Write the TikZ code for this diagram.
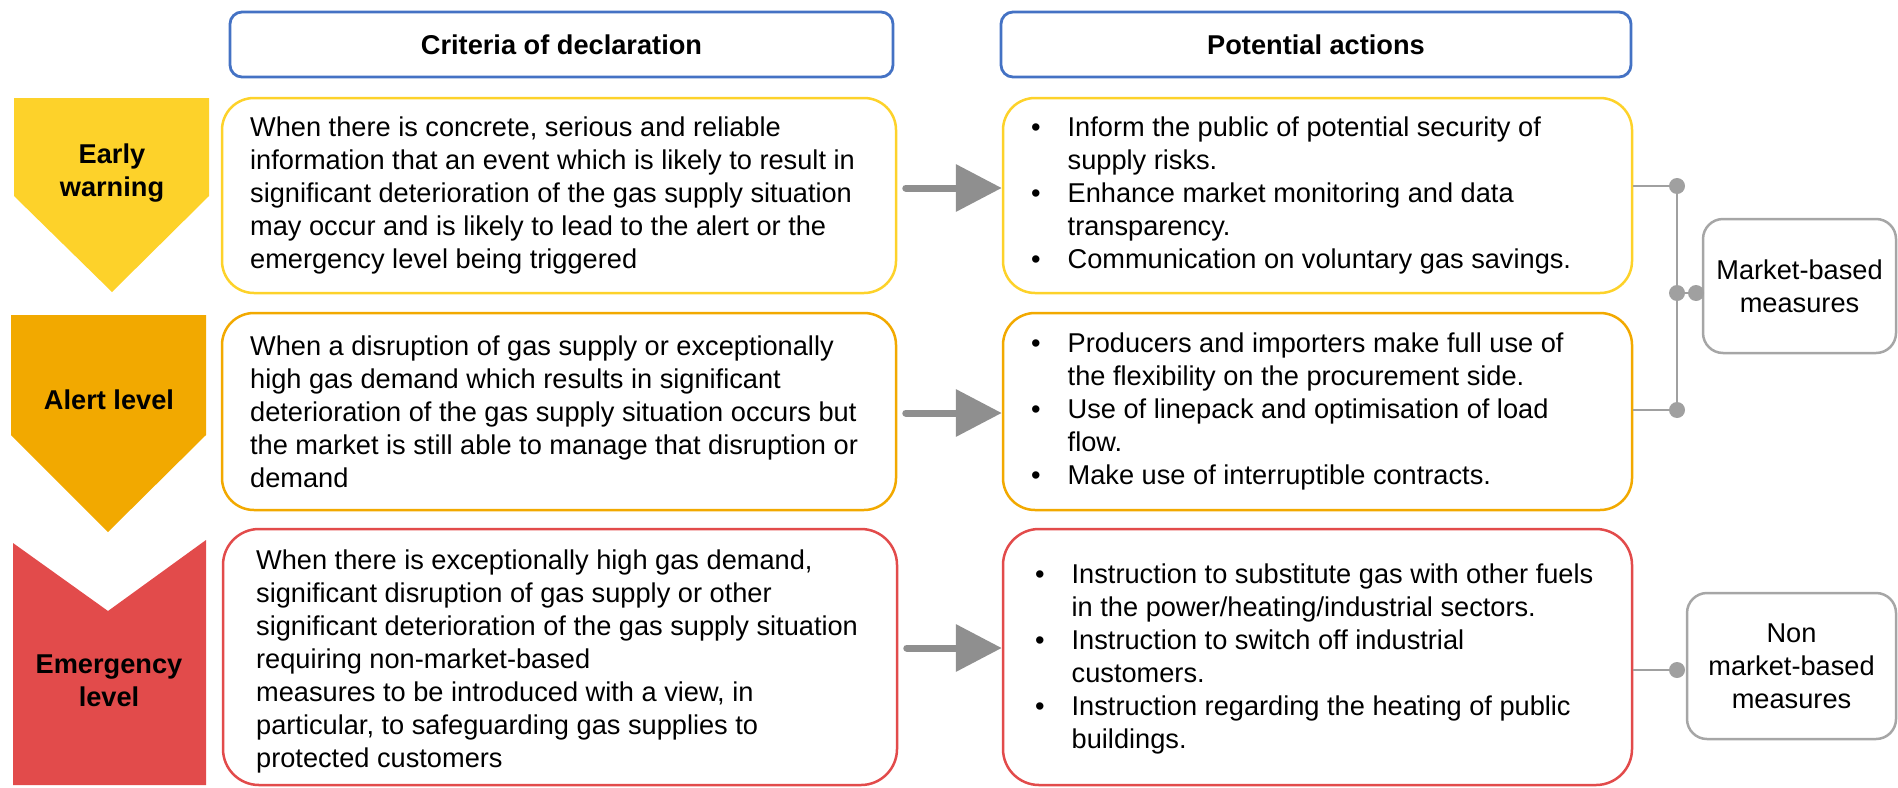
\documentclass[tikz,border=0pt]{standalone}
\usepackage{fontspec}
\setmainfont{Liberation Sans}
\usetikzlibrary{arrows.meta}

\definecolor{earlyc}{HTML}{FDD22A}
\definecolor{alertc}{HTML}{F2A900}
\definecolor{emergc}{HTML}{E24B4B}
\definecolor{headblue}{HTML}{4472C4}
\definecolor{linkgray}{HTML}{A0A0A0}
\definecolor{arrgray}{HTML}{8F8F8F}
\definecolor{measgray}{HTML}{A6A6A6}

\begin{document}
\begin{tikzpicture}[x=0.5pt,y=-0.5pt,
  every node/.style={font=\fontsize{13.6}{16.5}\selectfont},
  headbox/.style={draw=headblue,line width=1.4pt,rounded corners=6pt,minimum height=32.5pt,font=\fontsize{13.6}{16.5}\selectfont\bfseries},
  critbox/.style={draw=#1,line width=1.25pt,rounded corners=16pt,minimum width=337pt},
  actbox/.style={draw=#1,line width=1.25pt,rounded corners=16pt,minimum width=314.5pt},
  bodytxt/.style={inner sep=0pt,anchor=west,align=left},
  lvltxt/.style={font=\fontsize{13.6}{16.5}\selectfont\bfseries,align=center},
  measbox/.style={draw=measgray,line width=1.25pt,rounded corners=10pt,align=center,inner xsep=2pt},
  bigarrow/.style={draw=arrgray,line width=3.5pt,line cap=round,shorten <=4.25pt,-{Triangle[length=23pt,width=23pt]}},
  linkline/.style={draw=linkgray,line width=1pt},
  jdot/.style={fill=linkgray}]
\useasboundingbox (0,0) rectangle (1898,787);

% column headers
\node[headbox,minimum width=331.5pt] (crit) at (561.5,44.5) {Criteria of declaration};
\node[headbox,minimum width=315pt] (pot) at (1316,44.5) {Potential actions};

% level markers
\fill[earlyc] (14,98) -- (209,98) -- (209,196) -- (112,292) -- (14,196) -- cycle;
\fill[alertc] (11,315) -- (206,315) -- (206,435) -- (108,532) -- (11,435) -- cycle;
\fill[emergc] (13,543) -- (108,611) -- (206,540) -- (206,785) -- (13,785) -- cycle;
\node[lvltxt] (earlylbl) at (112,173) {Early\\warning};
\node[lvltxt] (alertlbl) at (109,400) {Alert level};
\node[lvltxt] (emerglbl) at (109,681) {Emergency\\level};

% criteria of declaration
\node[critbox=earlyc,minimum height=97.5pt] (earlycrit) at (559,195.5) {};
\node[bodytxt] (earlycrittxt) at ([xshift=14.5pt]earlycrit.west) {When there is concrete, serious and reliable\\
information that an event which is likely to result in\\
significant deterioration of the gas supply situation\\
may occur and is likely to lead to the alert or the\\
emergency level being triggered};

\node[critbox=alertc,minimum height=98.5pt] (alertcrit) at (559,411.5) {};
\node[bodytxt] (alertcrittxt) at ([xshift=14.5pt]alertcrit.west) {When a disruption of gas supply or exceptionally\\
high gas demand which results in significant\\
deterioration of the gas supply situation occurs but\\
the market is still able to manage that disruption or\\
demand};

\node[critbox=emergc,minimum height=128pt,rounded corners=18pt] (emergcrit) at (560,657) {};
\node[bodytxt] (emergcrittxt) at ([xshift=17pt,yshift=-2pt]emergcrit.west) {When there is exceptionally high gas demand,\\
significant disruption of gas supply or other\\
significant deterioration of the gas supply situation\\
requiring non-market-based\\
measures to be introduced with a view, in\\
particular, to safeguarding gas supplies to\\
protected customers};

% potential actions
\node[actbox=earlyc,minimum height=97.5pt] (earlyact) at (1317.5,195.5) {};
\node[bodytxt] (earlyacttxt) at ([xshift=14.5pt]earlyact.west) {\begin{tabular}{@{}l@{\hspace{13.5pt}}l@{}}
\textbullet & Inform the public of potential security of\\
 & supply risks.\\
\textbullet & Enhance market monitoring and data\\
 & transparency.\\
\textbullet & Communication on voluntary gas savings.
\end{tabular}};

\node[actbox=alertc,minimum height=98.5pt] (alertact) at (1317.5,411.5) {};
\node[bodytxt] (alertacttxt) at ([xshift=14.5pt]alertact.west) {\begin{tabular}{@{}l@{\hspace{13.5pt}}l@{}}
\textbullet & Producers and importers make full use of\\
 & the flexibility on the procurement side.\\
\textbullet & Use of linepack and optimisation of load\\
 & flow.\\
\textbullet & Make use of interruptible contracts.
\end{tabular}};

\node[actbox=emergc,minimum height=128pt,rounded corners=18pt] (emergact) at (1317.5,657) {};
\node[bodytxt] (emergacttxt) at ([xshift=16.5pt,yshift=-1pt]emergact.west) {\begin{tabular}{@{}l@{\hspace{13.5pt}}l@{}}
\textbullet & Instruction to substitute gas with other fuels\\
 & in the power/heating/industrial sectors.\\
\textbullet & Instruction to switch off industrial\\
 & customers.\\
\textbullet & Instruction regarding the heating of public\\
 & buildings.
\end{tabular}};

% arrows between the columns
\draw[bigarrow] ([yshift=3.75pt]earlycrit.east) -- ([yshift=3.75pt]earlyact.west);
\draw[bigarrow] ([yshift=-0.75pt]alertcrit.east) -- ([yshift=-0.75pt]alertact.west);
\draw[bigarrow] ([yshift=4.5pt]emergcrit.east) -- ([yshift=4.5pt]emergact.west);

% measures
\node[measbox,minimum width=96.5pt,minimum height=67pt] (market) at (1799.5,286) {Market-based\\measures};
\node[measbox,minimum width=104.5pt,minimum height=73pt] (nonmarket) at (1791.5,666) {Non\\market-based\\measures};

\coordinate (jtop) at (1677,186);
\coordinate (jmid) at (1677,293);
\coordinate (jbot) at (1677,410);
\coordinate (jmkt) at (1696,293);
\coordinate (jnon) at (1677,670);
\draw[linkline] (earlyact.east |- jtop) -- (jtop) -- (jbot) -- (alertact.east |- jbot);
\draw[linkline] (jmid) -- (jmkt);
\draw[linkline] (emergact.east |- jnon) -- (jnon);
\foreach \p in {jtop,jmid,jbot,jmkt,jnon}
  \fill[jdot] (\p) circle (4pt);
\end{tikzpicture}
\end{document}
